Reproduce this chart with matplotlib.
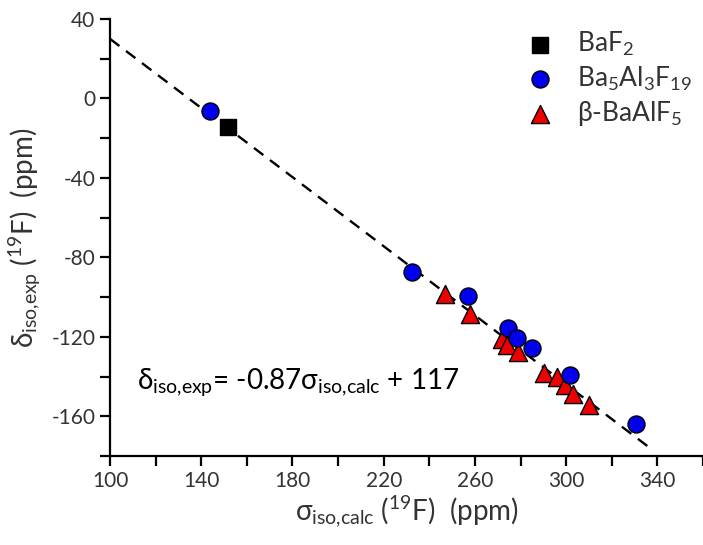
import numpy as np
import matplotlib
matplotlib.use('Agg')
import matplotlib.pyplot as plt

# data
baf2_x = [151.9]
baf2_y = [-14.6]

ba5_x = [143.9, 232.6, 256.9, 274.7, 278.4, 284.9, 301.8, 330.6]
ba5_y = [-6.3, -87.6, -99.5, -115.8, -120.5, -125.4, -139.3, -164.0]

beta_x = [246.9, 257.9, 271.8, 274.0, 279.1, 290.4, 295.9, 299.6, 303.2, 309.8]
beta_y = [-98.2, -108.3, -120.9, -124.2, -127.6, -138.2, -140.2, -144.4, -148.6, -154.5]

slope = -0.87
intercept = 117

plt.rcParams['font.family'] = ['Lato', 'DejaVu Sans']
plt.rcParams['mathtext.fontset'] = 'custom'
plt.rcParams['mathtext.rm'] = 'Lato'
plt.rcParams['mathtext.it'] = 'Lato'
plt.rcParams['mathtext.default'] = 'regular'

fig = plt.figure(figsize=(7.03, 5.45), dpi=100)
ax = fig.add_axes([110/703, 89/545, 593/703, 437/545])

# fit line
xl = np.array([100, 338])
ax.plot(xl, slope*xl + intercept, color='black', ls=(0, (5, 3.5)), lw=1.7, zorder=1)

ax.scatter(baf2_x, baf2_y, marker='s', s=130, color='black', label='BaF$_2$', zorder=3)
ax.scatter(ba5_x, ba5_y, marker='o', s=150, facecolor='#0000ee', edgecolor='black',
           linewidth=1.0, label='Ba$_5$Al$_3$F$_{19}$', zorder=3)
ax.scatter(beta_x, beta_y, marker='^', s=170, facecolor='#ee0000', edgecolor='black',
           linewidth=1.0, label='β-BaAlF$_5$', zorder=2)

ax.set_xlim(100, 360)
ax.set_ylim(-180, 40)
ax.set_xticks(np.arange(100, 361, 20))
ax.set_xticklabels([str(v) if (v - 100) % 40 == 0 and v < 360 else '' for v in range(100, 361, 20)])
ax.set_yticks(np.arange(-180, 41, 20))
ax.set_yticklabels([str(v) if v % 40 == 0 else '' for v in range(-180, 41, 20)])

ax.spines['top'].set_visible(False)
ax.spines['right'].set_visible(False)
ax.spines['left'].set_linewidth(1.6)
ax.spines['bottom'].set_linewidth(1.6)
ax.tick_params(direction='out', length=7, width=1.6, labelsize=15, colors='black')
for lab in ax.get_xticklabels() + ax.get_yticklabels():
    lab.set_color('#333333')

ax.set_xlabel(r'$\sigma_{iso{,}calc}$ ($^{19}$F)  (ppm)', fontsize=20, color='#333333', labelpad=2)
ax.set_ylabel(r'$\delta_{iso{,}exp}$ ($^{19}$F)  (ppm)', fontsize=20, color='#333333', labelpad=6)

ax.text(112, -146, r'$\delta_{iso{,}exp}$= -0.87$\sigma_{iso{,}calc}$ + 117', fontsize=20, color='black')

leg = ax.legend(loc='upper right', bbox_to_anchor=(1.0, 1.0), frameon=False, fontsize=19,
                handletextpad=0.4, labelspacing=0.25, borderaxespad=0.0)
for t in leg.get_texts():
    t.set_color('#333333')

fig.savefig('out.png', dpi=100)
